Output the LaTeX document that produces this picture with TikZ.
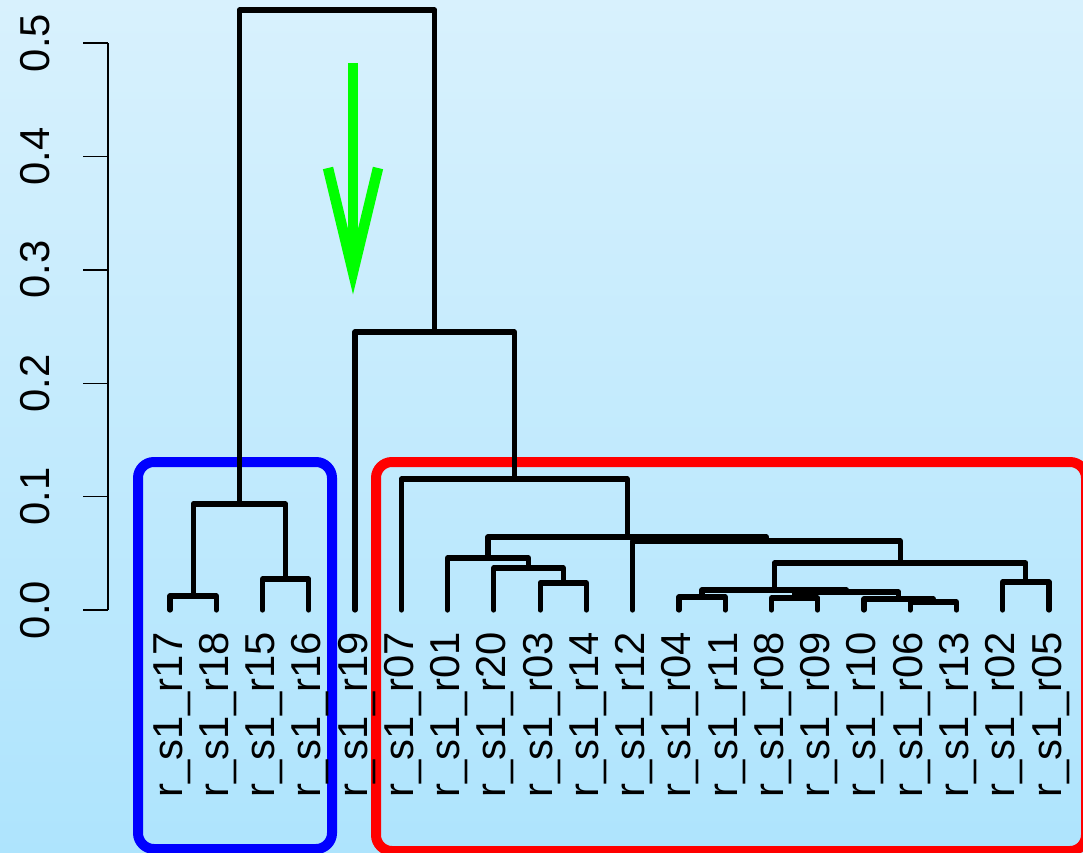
\documentclass[tikz,border=0pt]{standalone}
\usepackage{fontspec}
\setmainfont{Liberation Sans}
\newfontfamily\labfont[Kerning=Off]{Liberation Sans}
\definecolor{bgtop}{RGB}{216,241,253}
\definecolor{bgbot}{RGB}{174,228,253}
\definecolor{boxblue}{RGB}{0,0,255}
\definecolor{boxred}{RGB}{255,0,0}
\definecolor{arrgreen}{RGB}{0,255,0}
\tikzset{
  dend/.style={line width=5.2pt, line cap=round, line join=round, black},
  axisline/.style={line width=1.4pt, black},
  leaflab/.style={rotate=90, anchor=base east, inner sep=0pt, font=\labfont\fontsize{41.8}{48}\selectfont},
  ticklab/.style={rotate=90, anchor=base, inner sep=0pt, font=\labfont\fontsize{41.8}{48}\selectfont},
  groupbox/.style={line width=10pt, rounded corners=16pt},
  greenarrow/.style={line width=10.5pt, arrgreen, line cap=butt, line join=miter}
}
\begin{document}
\begin{tikzpicture}[x=1pt,y=-1pt]
\useasboundingbox (0,0) rectangle (1083,853);
\shade[top color=bgtop, bottom color=bgbot] (0,0) rectangle (1083,853);

% group boxes
\draw[groupbox, boxblue] (138,462) rectangle (332,849);
\draw[groupbox, boxred] (376,462) rectangle (1086,851);

% axis
\coordinate (ax0) at (108,610);
\coordinate (ax5) at (108,43);
\draw[axisline] (ax0) -- (ax5);
\foreach \k in {0,...,5} {
  \coordinate (tk\k) at (108,{610-113.4*\k});
  \coordinate (te\k) at (83,{610-113.4*\k});
  \draw[axisline] (tk\k) -- (te\k);
  \node[ticklab] (tl\k) at (49,{610-113.4*\k}) {0.\k};
}

% leaves and labels
\foreach \n [count=\i from 0] in {17,18,15,16,19,07,01,20,03,14,12,04,11,08,09,10,06,13,02,05} {
  \coordinate (r\n) at ({170+46.263*\i},610);
  \node[leaflab] (lab\n) at ({182+46.263*\i},632) {r\_s1\_r\n};
}

% merge points
\coordinate (bA)  at (193.13,596);
\coordinate (bB)  at (285.66,579);
\coordinate (blu) at (239.40,504);
\coordinate (mK)  at (563.24,583);
\coordinate (mJ)  at (528.54,568);
\coordinate (mA)  at (488.06,558);
\coordinate (mG)  at (702.03,597);
\coordinate (mP)  at (794.55,598);
\coordinate (mQ)  at (933.34,602);
\coordinate (mI)  at (898.65,599);
\coordinate (mH)  at (846.60,592);
\coordinate (mE)  at (774.32,590);
\coordinate (mF)  at (1025.87,582);
\coordinate (mD)  at (900.09,563);
\coordinate (mC)  at (766.36,541);
\coordinate (mR)  at (627.21,537);
\coordinate (red) at (514.27,479);
\coordinate (mS)  at (434.66,332);
\coordinate (top) at (337.03,10);

% dendrogram
\draw[dend] (r17) |- (bA) -| (r18);
\draw[dend] (r15) |- (bB) -| (r16);
\draw[dend] (bA) |- (blu) -| (bB);
\draw[dend] (r03) |- (mK) -| (r14);
\draw[dend] (r20) |- (mJ) -| (mK);
\draw[dend] (r01) |- (mA) -| (mJ);
\draw[dend] (r04) |- (mG) -| (r11);
\draw[dend] (r08) |- (mP) -| (r09);
\draw[dend] (r06) |- (mQ) -| (r13);
\draw[dend] (r10) |- (mI) -| (mQ);
\draw[dend] (mP) |- (mH) -| (mI);
\draw[dend] (mG) |- (mE) -| (mH);
\draw[dend] (r02) |- (mF) -| (r05);
\draw[dend] (mE) |- (mD) -| (mF);
\draw[dend] (r12) |- (mC) -| (mD);
\draw[dend] (mA) |- (mR) -| (mC);
\draw[dend] (r07) |- (red) -| (mR);
\draw[dend] (r19) |- (mS) -| (red);
\draw[dend] (blu) |- (top) -| (mS);

% green arrow
\coordinate (gs) at (353,63);
\coordinate (gt) at (353,272);
\coordinate (gl) at (328,168);
\coordinate (gr) at (378,168);
\draw[greenarrow] (gs) -- (gt);
\draw[greenarrow] (gl) -- (gt) -- (gr);
\end{tikzpicture}
\end{document}
